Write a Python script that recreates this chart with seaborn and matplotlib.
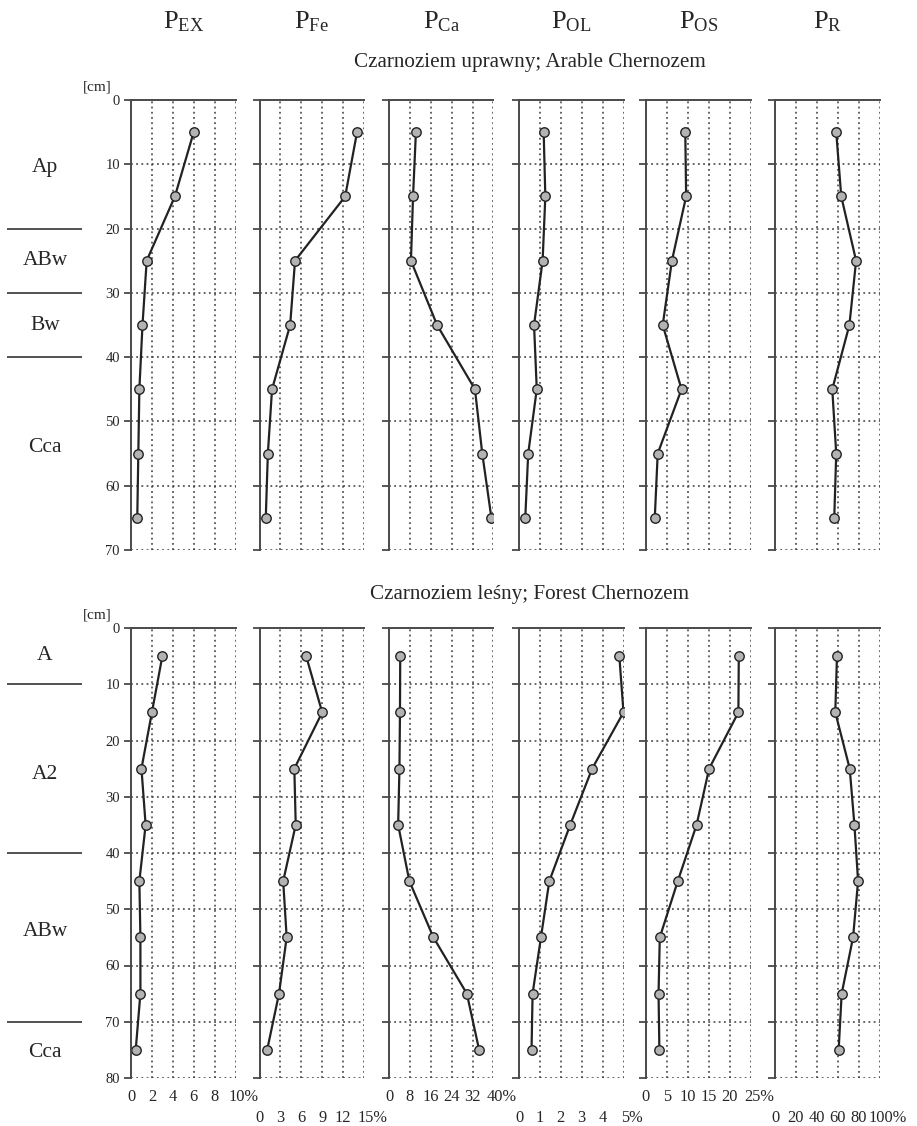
import numpy as np
import pandas as pd
import seaborn as sns
import matplotlib
matplotlib.use('Agg')
import matplotlib.pyplot as plt
from matplotlib.transforms import ScaledTranslation

sns.set_style('white')
plt.rcParams['font.family'] = ['Liberation Serif', 'DejaVu Serif']
plt.rcParams['mathtext.fontset'] = 'custom'
plt.rcParams['mathtext.rm'] = 'Liberation Serif'
plt.rcParams['mathtext.it'] = 'Liberation Serif:italic'

# parametry (kolumny)
params = ['EX', 'Fe', 'Ca', 'OL', 'OS', 'R']
x_ticks = [[0, 2, 4, 6, 8, 10], [0, 3, 6, 9, 12, 15], [0, 8, 16, 24, 32, 40],
           [0, 1, 2, 3, 4, 5], [0, 5, 10, 15, 20, 25], [0, 20, 40, 60, 80, 100]]

# Czarnoziem uprawny
depth_arable = [5, 15, 25, 35, 45, 55, 65]
ex_arable = [6.0, 4.2, 1.5, 1.1, 0.8, 0.7, 0.6]
fe_arable = [14.0, 12.3, 5.1, 4.4, 1.8, 1.2, 0.9]
ca_arable = [10.3, 9.2, 8.4, 18.4, 32.9, 35.7, 39.2]
ol_arable = [1.18, 1.26, 1.13, 0.72, 0.85, 0.44, 0.3]
os_arable = [9.4, 9.6, 6.2, 4.0, 8.5, 2.8, 2.1]
r_arable = [58.6, 63.4, 77.6, 71.2, 54.8, 58.6, 56.7]

# Czarnoziem leśny
depth_forest = [5, 15, 25, 35, 45, 55, 65, 75]
ex_forest = [3.0, 2.0, 1.0, 1.4, 0.8, 0.9, 0.9, 0.45]
fe_forest = [6.7, 9.0, 5.0, 5.2, 3.4, 3.9, 2.8, 1.1]
ca_forest = [4.3, 4.2, 4.0, 3.5, 7.8, 17.0, 29.8, 34.5]
ol_forest = [4.8, 5.0, 3.5, 2.45, 1.45, 1.05, 0.65, 0.6]
os_forest = [22.2, 22.1, 15.1, 12.1, 7.6, 3.3, 3.0, 3.2]
r_forest = [59.3, 57.7, 71.5, 76.0, 79.5, 74.7, 63.8, 60.9]

# poziomy genetyczne
hor_arable = ['Ap', 'ABw', 'Bw', 'Cca']
hor_arable_pos = [10.5, 25, 35, 54]
hor_arable_bounds = [20, 30, 40]
hor_forest = ['A', 'A2', 'ABw', 'Cca']
hor_forest_pos = [4.8, 26, 54, 75.5]
hor_forest_bounds = [10, 40, 70]

W, H = 917, 1126
fig = plt.figure(figsize=(W / 100, H / 100), dpi=100)

def fx(px):
    return px / W

def fy(py):
    return 1 - py / H

lefts = [131, 259.5, 389, 519, 646, 775]
width = 104.5

rows = [
    dict(top=100, bot=550, ymax=70, depth=depth_arable,
         vals=[ex_arable, fe_arable, ca_arable, ol_arable, os_arable, r_arable],
         hor=hor_arable, hpos=hor_arable_pos, hb=hor_arable_bounds,
         title='Czarnoziem uprawny; Arable Chernozem', title_y=62, xlabels=False),
    dict(top=628, bot=1078, ymax=80, depth=depth_forest,
         vals=[ex_forest, fe_forest, ca_forest, ol_forest, os_forest, r_forest],
         hor=hor_forest, hpos=hor_forest_pos, hb=hor_forest_bounds,
         title='Czarnoziem leśny; Forest Chernozem', title_y=595, xlabels=True),
]

dark = '#4a4a4a'
grid_kw = dict(color='#3a3a3a', linestyle=(0, (1.2, 2.2)), linewidth=1.1)

for row in rows:
    h = (row['bot'] - row['top']) / H
    # kolumna z poziomami
    axh = fig.add_axes([0, fy(row['bot']), fx(82), h])
    axh.set_xlim(0, 82)
    axh.set_ylim(row['ymax'], 0)
    axh.axis('off')
    axh.hlines(row['hb'], 7, 82, color='#333333', linewidth=1.2)
    for name, p in zip(row['hor'], row['hpos']):
        axh.text(45, p, name, ha='center', va='center', fontsize=15.5)

    fig.text(fx(358 + 172), fy(row['title_y']), row['title'], ha='center', va='center', fontsize=15.2)
    fig.text(fx(97), fy(row['top'] - 13), '[cm]', ha='center', va='center', fontsize=11)

    for i, (lx, vals, ticks) in enumerate(zip(lefts, row['vals'], x_ticks)):
        ax = fig.add_axes([fx(lx), fy(row['bot']), fx(width), h])
        df = pd.DataFrame({'value': vals, 'depth': row['depth']})
        sns.lineplot(data=df, x='value', y='depth', orient='y', estimator=None, sort=True,
                     color='#222222', linewidth=1.6, marker='o', markersize=6.8,
                     markerfacecolor='#b3b3b3', markeredgecolor='#222222', markeredgewidth=1.0,
                     ax=ax)
        ax.set_xlim(0, ticks[-1])
        ax.set_ylim(row['ymax'], 0)
        ax.set_xticks(ticks)
        ax.set_yticks(np.arange(0, row['ymax'] + 1, 10))
        ax.grid(True, **grid_kw)
        ax.set_axisbelow(True)
        ax.set_xlabel('')
        ax.set_ylabel('')
        for s in ['right', 'bottom']:
            ax.spines[s].set_visible(False)
        for s in ['left', 'top']:
            ax.spines[s].set_visible(True)
            ax.spines[s].set_color(dark)
            ax.spines[s].set_linewidth(1.4)
        ax.tick_params(axis='y', left=True, length=5, width=1.3, color=dark, pad=3, labelsize=10.5)
        if i > 0:
            ax.set_yticklabels([])
        if row['xlabels']:
            pad = 8 if i % 2 == 0 else 23
            ax.tick_params(axis='x', bottom=False, length=0, pad=pad, labelsize=11.8)
            labs = [str(t) for t in ticks]
            labs[-1] = labs[-1] + '%'
            ax.set_xticklabels(labs)
            last = ax.get_xticklabels()[-1]
            last.set_transform(last.get_transform() + ScaledTranslation(6 / 72, 0, fig.dpi_scale_trans))
        else:
            ax.tick_params(axis='x', bottom=False, labelbottom=False)

# nagłówki kolumn
for lx, p in zip(lefts, params):
    fig.text(fx(lx + width / 2), fy(22), r'$\mathrm{P}_{\mathrm{' + p + '}}$', ha='center', va='center',
             fontsize=19)

fig.savefig('out.png', dpi=100, facecolor='white')
